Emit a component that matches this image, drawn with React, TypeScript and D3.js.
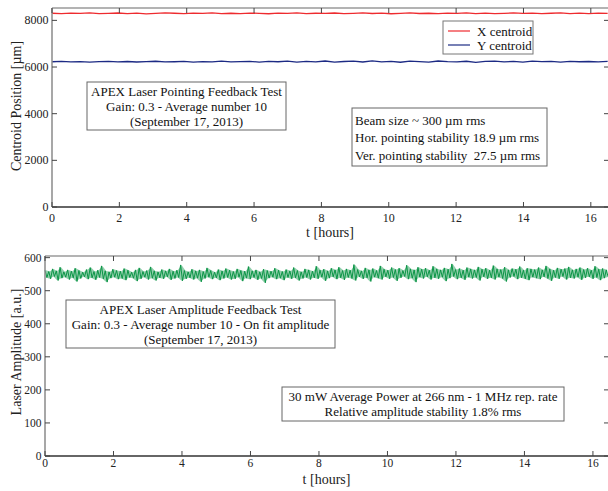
import React from "react";
import * as d3 from "d3";

// ---- data ----
const hourTicks = [0, 2, 4, 6, 8, 10, 12, 14, 16];
const centroidTicks = [0, 2000, 4000, 6000, 8000];
const amplitudeTicks = [0, 100, 200, 300, 400, 500, 600];

const RUN_HOURS = 16.5;

// X centroid [µm], evenly spaced over the run
const xCentroid = [
  8305, 8290, 8312, 8296, 8320, 8285, 8301, 8315, 8293, 8308,
  8282, 8299, 8318, 8304, 8289, 8311, 8297, 8325, 8292, 8306,
  8288, 8314, 8300, 8283, 8309, 8296, 8319, 8291, 8305, 8298,
  8316, 8287, 8303, 8322, 8294, 8310, 8284, 8301, 8317, 8295,
  8306, 8289, 8313, 8299, 8324, 8292, 8308, 8286, 8302, 8318,
  8297, 8311, 8290, 8305, 8321, 8293, 8307, 8288, 8314, 8300,
];

// Y centroid [µm]
const yCentroid = [
  6225, 6240, 6218, 6233, 6212, 6229, 6245, 6221, 6236, 6215,
  6231, 6248, 6219, 6227, 6242, 6214, 6235, 6223, 6250, 6217,
  6232, 6244, 6209, 6238, 6226, 6255, 6213, 6241, 6222, 6258,
  6207, 6237, 6249, 6216, 6262, 6224, 6243, 6205, 6253, 6228,
  6211, 6259, 6234, 6218, 6247, 6203, 6239, 6256, 6221, 6244,
  6210, 6251, 6229, 6240, 6214, 6246, 6225, 6236, 6219, 6242,
];

// laser amplitude [a.u.]: upper and lower swing of the noise in each time bin
const ampHigh = [
  562, 558, 566, 560, 571, 557, 563, 559, 568, 561,
  556, 564, 570, 558, 562, 575, 560, 557, 565, 561,
  559, 567, 562, 556, 563, 569, 558, 561, 572, 560,
  557, 564, 560, 566, 559, 562, 578, 561, 557, 565,
  560, 563, 558, 569, 561, 556, 564, 560, 567, 562,
  558, 566, 561, 559, 573, 560, 563, 557, 565, 561,
  559, 568, 562, 558, 564, 560, 570, 561, 557, 566,
  563, 559, 574, 562, 565, 560, 568, 563, 571, 561,
  566, 562, 579, 564, 560, 569, 563, 567, 561, 575,
  565, 562, 570, 564, 568, 561, 577, 566, 563, 571,
  565, 568, 562, 574, 566, 563, 569, 565, 581, 564,
  567, 562, 570, 566, 563, 572, 565, 568, 562, 576,
  566, 564, 571, 563, 567, 565, 573, 562, 568, 566,
  564, 570, 563, 575, 566, 562, 569, 565, 567, 572,
  563, 566, 570, 564, 568, 562, 574, 565, 567, 563,
];
const ampLow = [
  540, 536, 543, 531, 538, 541, 534, 539, 528, 537,
  542, 535, 539, 533, 540, 536, 526, 538, 541, 535,
  537, 532, 540, 538, 529, 536, 541, 534, 538, 531,
  539, 536, 542, 533, 537, 540, 530, 536, 539, 534,
  538, 527, 537, 541, 535, 539, 532, 537, 540, 534,
  536, 541, 529, 538, 535, 540, 533, 537, 524, 538,
  541, 535, 538, 532, 540, 536, 539, 531, 537, 540,
  534, 539, 536, 541, 530, 538, 542, 535, 539, 533,
  540, 537, 531, 542, 536, 539, 528, 541, 538, 534,
  542, 536, 540, 530, 539, 543, 535, 538, 526, 541,
  537, 542, 534, 539, 536, 541, 529, 538, 543, 535,
  539, 533, 541, 537, 540, 531, 542, 536, 539, 534,
  541, 537, 528, 540, 543, 535, 539, 536, 532, 541,
  538, 535, 542, 537, 530, 540, 536, 543, 534, 539,
  537, 541, 533, 539, 542, 536, 540, 532, 538, 541,
];

const pointingTitle = [
  "APEX Laser Pointing Feedback Test",
  "Gain: 0.3 - Average number 10",
  "(September 17, 2013)",
];
const pointingStats = [
  "Beam size ~ 300 µm rms",
  "Hor. pointing stability 18.9 µm rms",
  "Ver. pointing stability  27.5 µm rms",
];
const amplitudeTitle = [
  "APEX Laser Amplitude Feedback Test",
  "Gain: 0.3 - Average number 10 - On fit amplitude",
  "(September 17, 2013)",
];
const amplitudeStats = [
  "30 mW Average Power at 266 nm - 1 MHz rep. rate",
  "Relative amplitude stability 1.8% rms",
];

const FONT = "'Liberation Serif', 'Times New Roman', serif";
const GREEN = "#0b9546";

function toPoints(values: number[]) {
  const step = RUN_HOURS / (values.length - 1);
  return values.map((v, i) => [i * step, v] as [number, number]);
}

// noise trace: swing up to the bin's high value, then down to its low value
function zigzag(high: number[], low: number[]) {
  const step = RUN_HOURS / high.length;
  const pts: [number, number][] = [];
  high.forEach((h, i) => {
    pts.push([i * step, h]);
    pts.push([(i + 0.5) * step, low[i]]);
  });
  return pts;
}

function Frame({ x, y, yTicks, tickSize, yTitle, titleY, xLabelY, xTitleY }) {
  const [x0, x1] = x.range();
  const [yb, yt] = y.range();
  return (
    <g fontFamily={FONT} fill="#222">
      {/* frame lines */}
      <line x1={x0} x2={x1} y1={yt} y2={yt} stroke="#9a9a9a" strokeWidth={1.5} />
      <line x1={x0} x2={x0} y1={yt} y2={yb} stroke="#8a8a8a" strokeWidth={1.5} />
      <line x1={x0} x2={x1} y1={yb} y2={yb} stroke="#333" strokeWidth={1.3} />

      {hourTicks.map(t => (
        <g key={"xt" + t}>
          <line x1={x(t)} x2={x(t)} y1={yb} y2={yb - 5} stroke="#444" />
          <line x1={x(t)} x2={x(t)} y1={yt} y2={yt + 5} stroke="#444" />
          <text x={x(t)} y={xLabelY} textAnchor="middle" fontSize={tickSize}>
            {t}
          </text>
        </g>
      ))}

      {yTicks.map(t => (
        <g key={"yt" + t}>
          <line x1={x0} x2={x0 + 5} y1={y(t)} y2={y(t)} stroke="#444" />
          <line x1={x1 - 4} x2={x1} y1={y(t)} y2={y(t)} stroke="#444" />
          <text
            x={x0 - 3.5}
            y={y(t)}
            textAnchor="end"
            dominantBaseline="central"
            fontSize={tickSize}
          >
            {t}
          </text>
        </g>
      ))}

      <text
        transform={`translate(21, ${titleY}) rotate(-90)`}
        textAnchor="middle"
        fontSize={14}
      >
        {yTitle}
      </text>
      <text x={(x0 + x1) / 2} y={xTitleY} textAnchor="middle" fontSize={14}>
        t [hours]
      </text>
    </g>
  );
}

function TextBox({ x, y, w, h, lines, baseline, gap, align }) {
  const tx = align === "middle" ? x + w / 2 : x + 3;
  return (
    <g fontFamily={FONT}>
      <rect x={x} y={y} width={w} height={h} fill="white" stroke="#666" strokeWidth={1} />
      {lines.map((l, i) => (
        <text
          key={i}
          x={tx}
          y={y + baseline + i * gap}
          textAnchor={align === "middle" ? "middle" : "start"}
          fontSize={13}
          fill="#111"
          style={{ whiteSpace: "pre" }}
        >
          {l}
        </text>
      ))}
    </g>
  );
}

export default function App() {
  // top panel: centroid position
  const xTop = d3.scaleLinear().domain([0, 16.51]).range([52, 608]);
  const yTop = d3.scaleLinear().domain([0, 8530]).range([207, 8]);
  // bottom panel: laser amplitude
  const xBot = d3.scaleLinear().domain([0, 16.44]).range([45, 608]);
  const yBot = d3.scaleLinear().domain([0, 605]).range([456, 256]);

  const lineTop = d3.line<[number, number]>().x(d => xTop(d[0])).y(d => yTop(d[1]));
  const lineBot = d3.line<[number, number]>().x(d => xBot(d[0])).y(d => yBot(d[1]));

  const binStep = RUN_HOURS / ampHigh.length;
  const bandArea = d3
    .area<number>()
    .x((_, i) => xBot((i + 0.25) * binStep))
    .y0((_, i) => yBot(ampLow[i]))
    .y1(d => yBot(d));

  return (
    <svg
      width={608}
      height={491}
      style={{ position: "absolute", left: 0, top: 0, background: "white" }}
    >
      {/* ---- top panel ---- */}
      <path d={lineTop(toPoints(xCentroid))} fill="none" stroke="#ee2b2f" strokeWidth={1.3} />
      <path d={lineTop(toPoints(yCentroid))} fill="none" stroke="#1c2a84" strokeWidth={1.3} />
      <Frame
        x={xTop}
        y={yTop}
        yTicks={centroidTicks}
        tickSize={12}
        yTitle="Centroid Position [µm]"
        titleY={106}
        xLabelY={222}
        xTitleY={237}
      />

      {/* legend */}
      <g fontFamily={FONT}>
        <rect x={443} y={21} width={90} height={33} fill="white" stroke="#777" />
        <line x1={448} x2={470} y1={31} y2={31} stroke="#ee2b2f" strokeWidth={1.2} />
        <line x1={448} x2={470} y1={45} y2={45} stroke="#1c2a84" strokeWidth={1.2} />
        <text x={477} y={35.5} fontSize={13} fill="#111">X centroid</text>
        <text x={477} y={49.5} fontSize={13} fill="#111">Y centroid</text>
      </g>

      <TextBox x={87} y={82} w={199} h={48} lines={pointingTitle} baseline={14} gap={15} align="middle" />
      <TextBox x={352} y={108} w={195} h={58} lines={pointingStats} baseline={16.5} gap={17.5} align="start" />

      {/* ---- bottom panel ---- */}
      <path d={bandArea(ampHigh)} fill={GREEN} fillOpacity={0.45} stroke="none" />
      <path
        d={lineBot(zigzag(ampHigh, ampLow))}
        fill="none"
        stroke={GREEN}
        strokeWidth={1}
        strokeLinejoin="bevel"
      />
      <Frame
        x={xBot}
        y={yBot}
        yTicks={amplitudeTicks}
        tickSize={11.5}
        yTitle="Laser Amplitude [a.u.]"
        titleY={352}
        xLabelY={467}
        xTitleY={484}
      />

      <TextBox x={66} y={300} w={269} h={48} lines={amplitudeTitle} baseline={13.5} gap={15} align="middle" />
      <TextBox x={282} y={387} w={282} h={34} lines={amplitudeStats} baseline={14} gap={15} align="middle" />
    </svg>
  );
}
